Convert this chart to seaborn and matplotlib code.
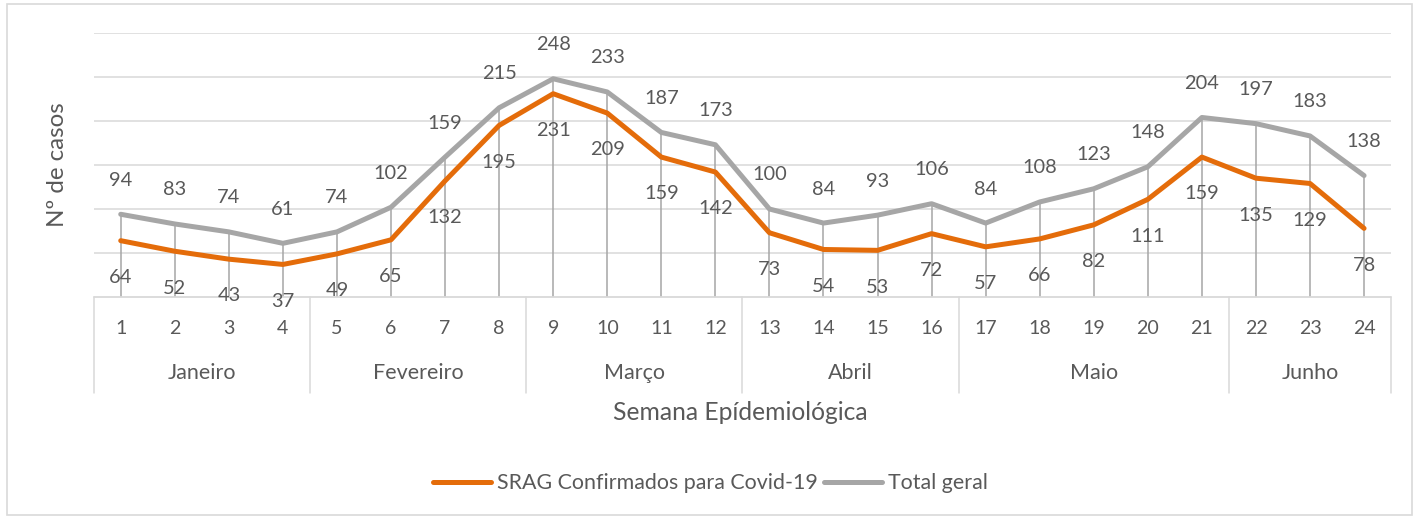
import matplotlib
matplotlib.use("Agg")
import matplotlib.pyplot as plt
import matplotlib.transforms as mtransforms
from matplotlib.lines import Line2D
from matplotlib.patches import Rectangle
import numpy as np
import pandas as pd
import seaborn as sns

# ---------------- data ----------------
weeks = list(range(1, 25))
srag_covid = [64, 52, 43, 37, 49, 65, 132, 195, 231, 209, 159, 142,
              73, 54, 53, 72, 57, 66, 82, 111, 159, 135, 129, 78]
total_geral = [94, 83, 74, 61, 74, 102, 159, 215, 248, 233, 187, 173,
               100, 84, 93, 106, 84, 108, 123, 148, 204, 197, 183, 138]
months = ["Janeiro", "Fevereiro", "Março", "Abril", "Maio", "Junho"]
month_weeks = [4, 4, 4, 4, 5, 3]
series_names = ["SRAG Confirmados para Covid-19", "Total geral"]
y_title = "Nº de casos"
x_title = "Semana Epídemiológica"

ORANGE = "#E46C0A"
GRAY = "#A6A6A6"
TEXT = "#595959"
GRID = "#D9D9D9"

sns.set_theme(style="white")
plt.rcParams["font.family"] = ["Lato", "DejaVu Sans"]

W, H = 1424, 518
fig = plt.figure(figsize=(W / 100, H / 100), dpi=100)
renderer = fig.canvas.get_renderer()


def fit_size(text, target_px, ref=10.0):
    t = fig.text(0, 0, text, fontsize=ref)
    w = t.get_window_extent(renderer=renderer).width
    t.remove()
    return ref * target_px / w


FS_DATA = fit_size("159", 35.0)
FS_WEEK = fit_size("12", 23.0)
FS_MONTH = fit_size("Março", 61.0)
FS_XT = fit_size(x_title, 255.0)
FS_YT = fit_size(y_title, 125.0)
FS_LEG = fit_size(series_names[0], 320.0)

df = pd.DataFrame({
    "Semana": weeks * 2,
    "Casos": srag_covid + total_geral,
    "Série": [series_names[0]] * len(weeks) + [series_names[1]] * len(weeks),
})

ax = fig.add_axes([93.7 / W, 1 - 297 / H, 1297.4 / W, 264 / H])

# drop lines (from the highest point down to the axis)
tops = [max(a, b) for a, b in zip(srag_covid, total_geral)]
ax.vlines(weeks, 0, tops, color=GRAY, lw=1.1, zorder=1)

sns.lineplot(data=df, x="Semana", y="Casos", hue="Série",
             palette={series_names[0]: ORANGE, series_names[1]: GRAY},
             linewidth=3.6, ax=ax, legend=False, zorder=3)

ax.set_xlim(0.5, 24.5)
ax.set_ylim(0, 300)
ax.set_yticks(np.arange(50, 301, 50))
ax.yaxis.grid(True, color=GRID, lw=1.1)
ax.set_axisbelow(True)
for s in ax.spines.values():
    s.set_visible(False)
ax.set_yticklabels([])
ax.tick_params(axis="y", length=0)
ax.set_xticks([])
ax.set_xlabel("")
ax.set_ylabel("")

# data labels
for w, v in zip(weeks, total_geral):
    ax.annotate(str(v), (w, v), xytext=(0, 24.5), textcoords="offset points",
                ha="center", va="center", fontsize=FS_DATA, color=TEXT, zorder=4)
for w, v in zip(weeks, srag_covid):
    ax.annotate(str(v), (w, v), xytext=(0, -26.5), textcoords="offset points",
                ha="center", va="center", fontsize=FS_DATA, color=TEXT, zorder=4)

# category table under the axis
trans = mtransforms.blended_transform_factory(ax.transData, ax.transAxes)
ax_h_px = 264.0
ax.plot([0.5, 24.5], [0, 0], transform=trans, color=GRID, lw=1.3, clip_on=False)
bounds = [0.5]
for n in month_weeks:
    bounds.append(bounds[-1] + n)
for b in bounds:
    ax.plot([b, b], [0, -96 / ax_h_px], transform=trans, color=GRID, lw=1.1,
            clip_on=False)
for w in weeks:
    ax.text(w, -32 / ax_h_px, str(w), transform=trans, ha="center", va="center",
            fontsize=FS_WEEK, color=TEXT)
for m, a, b in zip(months, bounds[:-1], bounds[1:]):
    ax.text((a + b) / 2, -76 / ax_h_px, m, transform=trans, ha="center",
            va="center", fontsize=FS_MONTH, color=TEXT)

fig.text(740 / W, 1 - 413 / H, x_title, ha="center", va="center",
         fontsize=FS_XT, color=TEXT)
fig.text(58 / W, 1 - 164.5 / H, y_title, ha="center", va="center",
         rotation=90, fontsize=FS_YT, color=TEXT)

em_px = FS_LEG * 100 / 72
handles = [Line2D([], [], color=ORANGE, lw=3.6, solid_capstyle="round"),
           Line2D([], [], color=GRAY, lw=3.6, solid_capstyle="round")]
fig.legend(handles, series_names, loc="center", bbox_to_anchor=(710 / W, 1 - 483 / H),
           ncol=2, frameon=False, fontsize=FS_LEG, labelcolor=TEXT,
           handlelength=58 / em_px, handletextpad=6 / em_px,
           columnspacing=6 / em_px, borderaxespad=0)

# outer chart border
fig.patches.append(Rectangle((7 / W, 3 / H), 1405 / W, 511 / H,
                             transform=fig.transFigure, fill=False,
                             edgecolor=GRID, lw=1.2))

fig.savefig("out.png", dpi=100)
